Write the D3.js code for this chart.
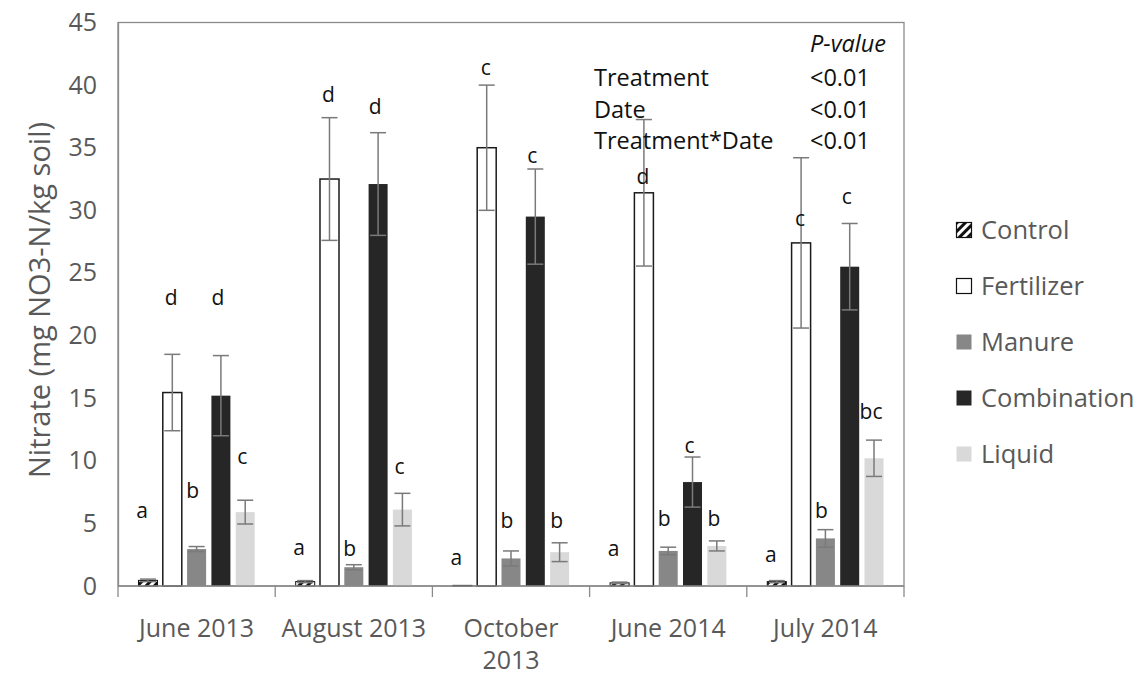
<!DOCTYPE html>
<html>
<head>
<meta charset="utf-8">
<script src="https://cdn.jsdelivr.net/npm/d3@7"></script>
<style>
  html, body { margin: 0; padding: 0; background: #fff; }
  svg { display: block; font-family: "Open Sans", "DejaVu Sans", sans-serif; }
</style>
</head>
<body>
<svg id="chart" width="1143" height="675"></svg>
<script>
// Sampling dates (x-axis groups); "\n" splits a label over two lines
const dates = ["June 2013", "August 2013", "October\n2013", "June 2014", "July 2014"];
const treatments = ["Control", "Fertilizer", "Manure", "Combination", "Liquid"];

// Mean nitrate (mg NO3-N/kg soil), one array per treatment, in date order
const control     = [0.45, 0.35, 0.05, 0.25, 0.35];
const fertilizer  = [15.45, 32.5, 35.0, 31.4, 27.4];
const manure      = [2.95, 1.5, 2.2, 2.8, 3.8];
const combination = [15.2, 32.1, 29.5, 8.3, 25.5];
const liquid      = [5.9, 6.1, 2.7, 3.2, 10.2];

// Standard errors
const controlErr     = [0.1, 0.08, 0.0, 0.06, 0.08];
const fertilizerErr  = [3.05, 4.9, 5.0, 5.85, 6.8];
const manureErr      = [0.2, 0.2, 0.6, 0.3, 0.7];
const combinationErr = [3.2, 4.1, 3.8, 2.0, 3.45];
const liquidErr      = [0.95, 1.3, 0.75, 0.4, 1.45];

// Mean-separation letters and the height (in axis units) each is written at
const controlLetters     = ["a", "a", "a", "a", "a"];
const fertilizerLetters  = ["d", "d", "c", "d", "c"];
const manureLetters      = ["b", "b", "b", "b", "b"];
const combinationLetters = ["d", "d", "c", "c", "c"];
const liquidLetters      = ["c", "c", "b", "b", "bc"];

const controlLetterAt     = [6.0, 3.1, 2.3, 3.0, 2.5];
const fertilizerLetterAt  = [23.0, 39.2, 41.4, 32.7, 29.3];
const manureLetterAt      = [7.6, 3.0, 5.2, 5.4, 6.0];
const combinationLetterAt = [23.0, 38.3, 34.4, 11.2, 31.1];
const liquidLetterAt      = [10.3, 9.5, 5.2, 5.4, 13.9];

const yTicks = [0, 5, 10, 15, 20, 25, 30, 35, 40, 45];

// ANOVA summary shown in the upper-right of the plot
const anovaTerms = ["Treatment", "Date", "Treatment*Date"];
const anovaP = ["<0.01", "<0.01", "<0.01"];

const seriesValues = [control, fertilizer, manure, combination, liquid];
const seriesErrors = [controlErr, fertilizerErr, manureErr, combinationErr, liquidErr];
const seriesLetters = [controlLetters, fertilizerLetters, manureLetters, combinationLetters, liquidLetters];
const seriesLetterAt = [controlLetterAt, fertilizerLetterAt, manureLetterAt, combinationLetterAt, liquidLetterAt];

const rows = [];
dates.forEach((d, i) => {
  treatments.forEach((t, j) => {
    rows.push({
      date: d, treatment: t,
      value: seriesValues[j][i], err: seriesErrors[j][i],
      letter: seriesLetters[j][i], letterAt: seriesLetterAt[j][i]
    });
  });
});

const svg = d3.select("#chart");
const plotLeft = 118, plotRight = 904, plotTop = 22.5, plotBottom = 586;

const x0 = d3.scaleBand().domain(dates).range([plotLeft, plotRight]).padding(0);
const x1 = d3.scaleBand().domain(treatments).range([0, x0.bandwidth()])
  .paddingInner(0.218).paddingOuter(0.843);
const y = d3.scaleLinear().domain([0, 45]).range([plotBottom, plotTop]);

// Diagonal hatch used by the Control treatment
const defs = svg.append("defs");
const pat = defs.append("pattern")
  .attr("id", "hatch").attr("patternUnits", "userSpaceOnUse")
  .attr("width", 6).attr("height", 6)
  .attr("patternTransform", "rotate(45)");
pat.append("rect").attr("width", 6).attr("height", 6).attr("fill", "#fff");
pat.append("rect").attr("width", 3).attr("height", 6).attr("fill", "#111");

const fills = {
  Control: "url(#hatch)", Fertilizer: "#ffffff", Manure: "#878787",
  Combination: "#262626", Liquid: "#d9d9d9"
};
const strokes = {
  Control: "#111", Fertilizer: "#1a1a1a", Manure: "none",
  Combination: "none", Liquid: "none"
};
// Small horizontal nudges of the letters so they clear neighbouring bars
const letterNudge = { Control: -6, Fertilizer: -1, Manure: -4, Combination: -3, Liquid: -3 };

// Plot-area frame
svg.append("rect")
  .attr("x", plotLeft).attr("y", plotTop)
  .attr("width", plotRight - plotLeft).attr("height", plotBottom - plotTop)
  .attr("fill", "none").attr("stroke", "#8a8a8a").attr("stroke-width", 1.3);

// Bars
const bars = svg.append("g");
bars.selectAll("rect").data(rows).join("rect")
  .attr("x", d => x0(d.date) + x1(d.treatment))
  .attr("y", d => y(d.value))
  .attr("width", x1.bandwidth())
  .attr("height", d => y(0) - y(d.value))
  .attr("fill", d => fills[d.treatment])
  .attr("stroke", d => strokes[d.treatment])
  .attr("stroke-width", d => d.treatment === "Fertilizer" ? 1.5 : 1);

// Error bars
const capHalf = 8;
const eb = svg.append("g").attr("stroke", "#7a7a7a").attr("stroke-width", 1.5);
rows.filter(d => d.err > 0).forEach(d => {
  const cx = x0(d.date) + x1(d.treatment) + x1.bandwidth() / 2;
  const lo = y(Math.max(0, d.value - d.err)), hi = y(d.value + d.err);
  eb.append("line").attr("x1", cx).attr("x2", cx).attr("y1", lo).attr("y2", hi);
  eb.append("line").attr("x1", cx - capHalf).attr("x2", cx + capHalf).attr("y1", hi).attr("y2", hi);
  eb.append("line").attr("x1", cx - capHalf).attr("x2", cx + capHalf).attr("y1", lo).attr("y2", lo);
});

// Significance letters
svg.append("g").selectAll("text").data(rows).join("text")
  .attr("x", d => x0(d.date) + x1(d.treatment) + x1.bandwidth() / 2 + letterNudge[d.treatment])
  .attr("y", d => y(d.letterAt))
  .attr("dy", "0.35em")
  .attr("text-anchor", "middle")
  .attr("font-size", 21)
  .attr("fill", "#111")
  .text(d => d.letter);

// Y axis
const yAxis = svg.append("g").attr("transform", `translate(${plotLeft},0)`)
  .call(d3.axisLeft(y).tickValues(yTicks).tickSize(0).tickPadding(21));
yAxis.select(".domain").attr("stroke", "#8a8a8a").attr("stroke-width", 1.3);
yAxis.selectAll("text").attr("font-size", 25).attr("fill", "#595959")
  .attr("font-family", "Open Sans");

// X axis: ticks at group boundaries, labels centred under groups
const xAxis = svg.append("g").attr("transform", `translate(0,${plotBottom})`);
xAxis.append("line").attr("x1", plotLeft).attr("x2", plotRight)
  .attr("stroke", "#8a8a8a").attr("stroke-width", 1.3);
const bounds = dates.map(d => x0(d)).concat([plotRight]);
xAxis.selectAll("line.tick").data(bounds).join("line")
  .attr("class", "tick")
  .attr("x1", d => d).attr("x2", d => d)
  .attr("y1", 0).attr("y2", 11)
  .attr("stroke", "#8a8a8a").attr("stroke-width", 1.3);
const xl = xAxis.selectAll("text").data(dates).join("text")
  .attr("x", d => x0(d) + x0.bandwidth() / 2)
  .attr("y", 51)
  .attr("text-anchor", "middle")
  .attr("font-size", 25)
  .attr("fill", "#595959");
xl.each(function (d) {
  const parts = d.split("\n");
  const t = d3.select(this);
  parts.forEach((p, k) => {
    t.append("tspan").attr("x", x0(d) + x0.bandwidth() / 2)
      .attr("dy", k === 0 ? 0 : 32).text(p);
  });
});

// Y axis title
svg.append("text")
  .attr("transform", "translate(50,300) rotate(-90)")
  .attr("text-anchor", "middle")
  .attr("font-size", 29)
  .attr("fill", "#595959")
  .text("Nitrate (mg NO3-N/kg soil)");

// ANOVA table
const tbl = svg.append("g").attr("font-size", 23.5).attr("fill", "#111");
tbl.append("text").attr("x", 810).attr("y", 52)
  .attr("font-style", "italic").text("P-value");
anovaTerms.forEach((t, i) => {
  tbl.append("text").attr("x", 594).attr("y", 86 + i * 31.5).text(t);
  tbl.append("text").attr("x", 810).attr("y", 86 + i * 31.5).text(anovaP[i]);
});

// Legend
const lg = svg.append("g").attr("transform", "translate(956,230)");
treatments.forEach((t, i) => {
  const g = lg.append("g").attr("transform", `translate(0,${i * 56})`);
  g.append("rect").attr("x", 0.5).attr("y", -7.5).attr("width", 15).attr("height", 15)
    .attr("fill", fills[t])
    .attr("stroke", t === "Control" || t === "Fertilizer" ? "#111" : "none")
    .attr("stroke-width", 1.2);
  g.append("text").attr("x", 25).attr("y", 0).attr("dy", "0.35em")
    .attr("font-size", 25.5).attr("fill", "#595959").text(t);
});
</script>
</body>
</html>
